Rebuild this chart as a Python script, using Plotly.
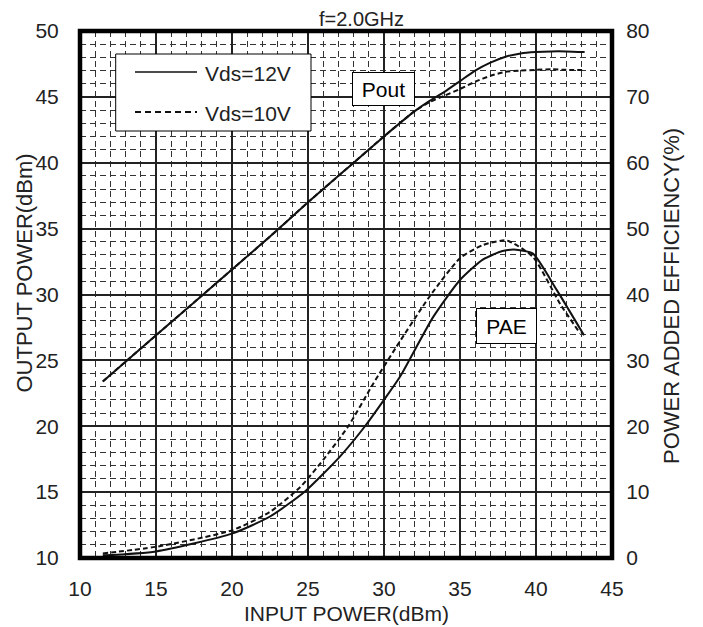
import plotly.graph_objects as go

# ---------------- data ----------------
pin_pout12 = [11.5, 13, 15, 17.5, 20, 22.5, 25, 27.5, 30, 32, 33, 34, 35, 36, 37, 38, 39, 40, 41, 42, 43.2]
pout12 = [23.4, 24.9, 26.9, 29.4, 31.9, 34.4, 37.0, 39.5, 42.0, 43.9, 44.7, 45.4, 46.2, 47.0, 47.6, 48.05, 48.3, 48.4, 48.45, 48.45, 48.4]

pin_pout10 = [11.5, 13, 15, 17.5, 20, 22.5, 25, 27.5, 30, 32, 33, 34, 35, 36, 37, 38, 39, 40, 41, 42, 43.2]
pout10 = [23.4, 24.9, 26.9, 29.4, 31.9, 34.4, 37.0, 39.5, 42.0, 43.9, 44.6, 45.1, 45.6, 46.15, 46.6, 46.9, 47.0, 47.05, 47.1, 47.05, 47.05]

pin_pae12 = [11.5, 15, 20, 22.5, 24.8, 27.1, 28.75, 30.0, 31.05, 33.24, 35.0, 36.5, 37.8, 38.7, 39.8, 41.36, 43.16]
pae12 = [0.4, 1.0, 3.7, 6.3, 10.1, 15.4, 20.0, 24.0, 27.5, 36.6, 42.2, 45.3, 46.6, 46.8, 46.2, 40.7, 33.8]

pin_pae10 = [11.5, 15, 20, 22.5, 24.5, 26.0, 27.65, 29.3, 30.8, 33.0, 35.0, 36.5, 38.07, 39.8, 41.58, 42.9]
pae10 = [0.7, 1.7, 4.2, 7.0, 10.8, 14.9, 20.0, 26.5, 32.0, 39.7, 45.5, 47.5, 48.2, 45.7, 38.6, 34.1]

x_ticks = [10, 15, 20, 25, 30, 35, 40, 45]
y_left_ticks = [10, 15, 20, 25, 30, 35, 40, 45, 50]
y_right_ticks = [0, 10, 20, 30, 40, 50, 60, 70, 80]

series_names = ["Vds=12V", "Vds=10V"]

FONT = "Liberation Sans, Arial, sans-serif"
TXT = "#222222"
LINE = "#111111"

fig = go.Figure()
fig.add_trace(go.Scatter(x=pin_pout12, y=pout12, mode="lines", name=series_names[0],
                         line=dict(color=LINE, width=2, shape="spline", smoothing=0.6)))
fig.add_trace(go.Scatter(x=pin_pout10, y=pout10, mode="lines", name=series_names[1],
                         line=dict(color=LINE, width=2, dash="5px,3px", shape="spline", smoothing=0.6)))
fig.add_trace(go.Scatter(x=pin_pae12, y=pae12, mode="lines", yaxis="y2", name=series_names[0] + " PAE",
                         line=dict(color=LINE, width=2, shape="spline", smoothing=0.6)))
fig.add_trace(go.Scatter(x=pin_pae10, y=pae10, mode="lines", yaxis="y2", name=series_names[1] + " PAE",
                         line=dict(color=LINE, width=2, dash="5px,3px", shape="spline", smoothing=0.6)))

grid_major = dict(showgrid=True, gridcolor="#222222", gridwidth=1.5)
minor = dict(dtick=1, showgrid=True, gridcolor="#333333", gridwidth=1, griddash="6px,4px")

# page body has an 8px default margin: shift the figure so the plot lands where the reference has it
fig.update_layout(
    width=695, height=619,
    margin=dict(l=72, r=91, t=23, b=69),
    paper_bgcolor="white", plot_bgcolor="white",
    showlegend=False,
    font=dict(family=FONT, color=TXT, size=21),
    xaxis=dict(range=[10, 45], tickvals=x_ticks, ticks="outside", ticklen=12,
               tickcolor="rgba(0,0,0,0)", zeroline=False, showline=False,
               tickfont=dict(size=21, color=TXT), **grid_major, minor=minor),
    yaxis=dict(range=[10, 50], tickvals=y_left_ticks, ticks="outside", ticklen=16,
               tickcolor="rgba(0,0,0,0)", zeroline=False, showline=False,
               tickfont=dict(size=21, color=TXT), **grid_major, minor=dict(minor, dtick=1)),
    yaxis2=dict(range=[0, 80], tickvals=y_right_ticks, overlaying="y", side="right",
                ticks="outside", ticklen=9, tickcolor="rgba(0,0,0,0)", showgrid=False,
                zeroline=False, showline=False, tickfont=dict(size=21, color=TXT)),
)

W, H = 532.0, 527.0
def px(x):
    return (x - 80) / W
def py(y):
    return (558 - y) / H

shapes = [
    dict(type="rect", xref="paper", yref="paper", x0=0, x1=1, y0=0, y1=1,
         line=dict(color="black", width=4.5), layer="above"),
    dict(type="rect", xref="paper", yref="paper", x0=px(115.7), x1=px(311), y0=py(131), y1=py(54),
         line=dict(color="black", width=1), fillcolor="white", layer="above"),
    dict(type="line", xref="paper", yref="paper", x0=px(135), x1=px(197), y0=py(72), y1=py(72),
         line=dict(color=LINE, width=1.5), layer="above"),
    dict(type="line", xref="paper", yref="paper", x0=px(135), x1=px(197), y0=py(112), y1=py(112),
         line=dict(color=LINE, width=2, dash="6px,4px"), layer="above"),
]
fig.update_layout(shapes=shapes)

ann = [
    dict(text="f=2.0GHz", x=px(361), y=py(18.5), height=18, font=dict(size=20)),
    dict(text="INPUT POWER(dBm)", x=0.5, y=py(613), font=dict(size=21)),
    dict(text="OUTPUT POWER(dBm)", x=px(24), y=py(273.5), textangle=-90, font=dict(size=22)),
    dict(text="POWER ADDED EFFICIENCY(%)", x=px(671.5), y=py(296.5), textangle=-90, font=dict(size=22)),
    dict(text=series_names[0], x=px(203), y=py(73.5), xanchor="left", font=dict(size=21)),
    dict(text=series_names[1], x=px(203), y=py(113.5), xanchor="left", font=dict(size=21)),
    dict(text="Pout", x=px(383.5), y=py(89), width=59, height=30, bordercolor="black", borderwidth=1,
         borderpad=1, bgcolor="white", font=dict(size=21, color="black")),
    dict(text="PAE", x=px(506.2), y=py(326.2), width=57, height=32, bordercolor="black", borderwidth=1,
         borderpad=1, bgcolor="white", font=dict(size=21, color="black")),
]
for a in ann:
    a.setdefault("xref", "paper")
    a.setdefault("yref", "paper")
    a.setdefault("xanchor", "center")
    a.setdefault("yanchor", "middle")
    a["showarrow"] = False
    a["font"] = dict(dict(family=FONT, color=TXT), **a["font"])
fig.update_layout(annotations=ann)

fig.write_html("out.html")
